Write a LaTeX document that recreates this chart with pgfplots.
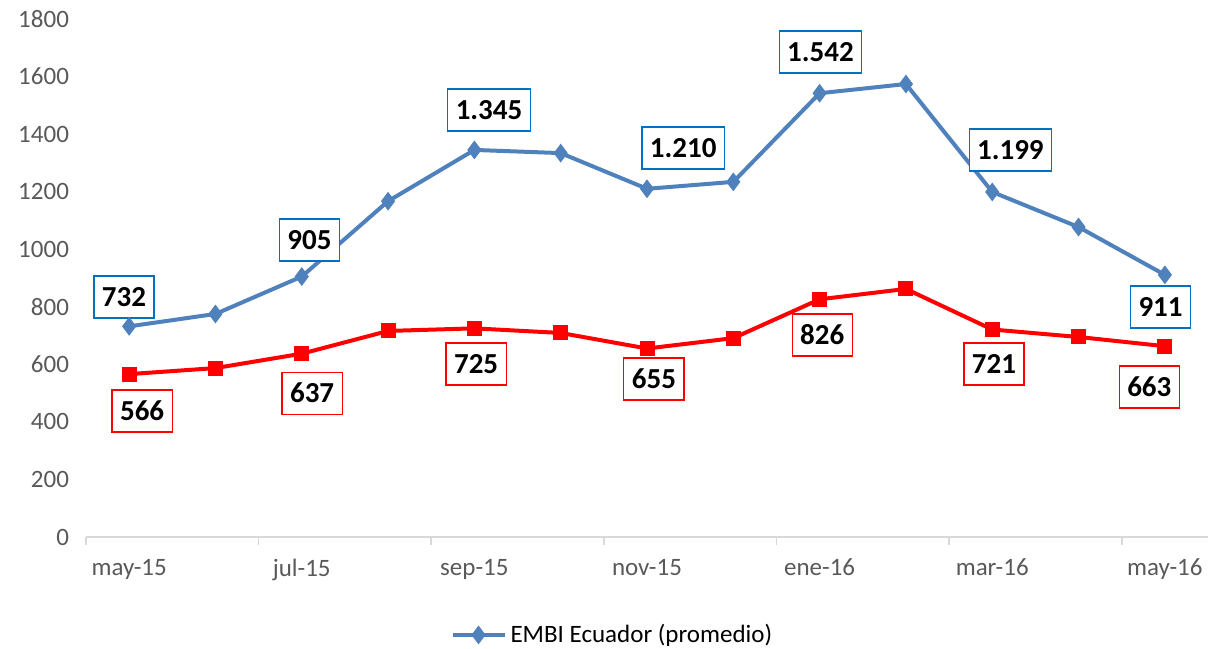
\documentclass[border=0pt]{standalone}
\usepackage{fontspec}
\setmainfont{Carlito}
\usepackage{pgfplots}
\pgfplotsset{compat=1.18}

\definecolor{embiblue}{HTML}{4F81BD}
\definecolor{boxblue}{HTML}{0070C0}
\definecolor{tickgray}{HTML}{595959}
\definecolor{axisgray}{HTML}{D9D9D9}

\begin{document}
\begin{tikzpicture}[
  lblB/.style={draw=boxblue, line width=0.6pt, fill=white, inner xsep=4pt, minimum height=21pt,
               font=\fontsize{14.5}{16}\selectfont\bfseries, text=black},
  lblR/.style={draw=red, line width=0.6pt, fill=white, inner xsep=4pt, minimum height=21pt,
               font=\fontsize{14.5}{16}\selectfont\bfseries, text=black},
]
\begin{axis}[
  scale only axis,
  width=561pt,
  height=259pt,
  xmin=-0.5, xmax=12.5,
  ymin=0, ymax=1800,
  ytick={0,200,...,1800},
  xtick={0,2,...,12},
  xticklabels={may-15,jul-15,sep-15,nov-15,ene-16,mar-16,may-16},
  extra x ticks={-0.5,1.5,3.5,5.5,7.5,9.5,11.5},
  extra x tick labels={},
  extra x tick style={major tick length=4pt, tick style={draw=axisgray, line width=0.8pt},
                      tick align=outside},
  major tick length=0pt,
  axis x line*=bottom,
  axis y line*=left,
  x axis line style={draw=axisgray, line width=0.8pt, -},
  y axis line style={draw=none},
  ytick style={draw=none},
  tick label style={font=\fontsize{12.5}{14}\selectfont, text=tickgray},
  /pgf/number format/assume math mode=true,
  /pgf/number format/set thousands separator={},
  yticklabel style={xshift=-5pt},
  xticklabel style={yshift=-7.5pt},
  legend style={at={(0.47,-0.189)}, anchor=center, draw=none,
                font=\fontsize{12.5}{14}\selectfont, text=black},
  legend cell align=left,
  legend image code/.code={%
    \draw[#1, mark=none] (0pt,0pt) -- (26pt,0pt);
    \draw[#1, only marks] plot coordinates {(13pt,0pt)};},
  clip=false,
]

\addplot[embiblue, line width=2pt, mark=diamond*, mark size=4.3pt,
         mark options={fill=embiblue, draw=embiblue, line width=0.5pt}]
  coordinates {
    (0,732) (1,775) (2,905) (3,1167) (4,1345) (5,1334) (6,1210)
    (7,1234) (8,1542) (9,1574) (10,1199) (11,1077) (12,911)
  };
\addlegendentry{EMBI Ecuador (promedio)}

\addplot[red, line width=2pt, mark=square*, mark size=3.5pt,
         mark options={fill=red, draw=red, line width=0.5pt}, forget plot]
  coordinates {
    (0,566) (1,587) (2,637) (3,716) (4,725) (5,709) (6,655)
    (7,691) (8,826) (9,862) (10,721) (11,695) (12,663)
  };

% data labels, blue series
\node[lblB] at (axis cs:-0.06,834) {732};
\node[lblB] at (axis cs:2.09,1032) {905};
\node[lblB] at (axis cs:4.17,1484) {1.345};
\node[lblB] at (axis cs:6.42,1352) {1.210};
\node[lblB] at (axis cs:8.01,1685) {1.542};
\node[lblB] at (axis cs:10.21,1345) {1.199};
\node[lblB] at (axis cs:11.95,799) {911};

% data labels, red series
\node[lblR] at (axis cs:0.15,438) {566};
\node[lblR] at (axis cs:2.12,500) {637};
\node[lblR] at (axis cs:4.02,601) {725};
\node[lblR] at (axis cs:6.08,549) {655};
\node[lblR] at (axis cs:8.03,702) {826};
\node[lblR] at (axis cs:10.02,601) {721};
\node[lblR] at (axis cs:11.82,521) {663};

\end{axis}
\pgfresetboundingbox
\path (-43pt,-55.5pt) rectangle (563.5pt,268.5pt);
\end{tikzpicture}
\end{document}
